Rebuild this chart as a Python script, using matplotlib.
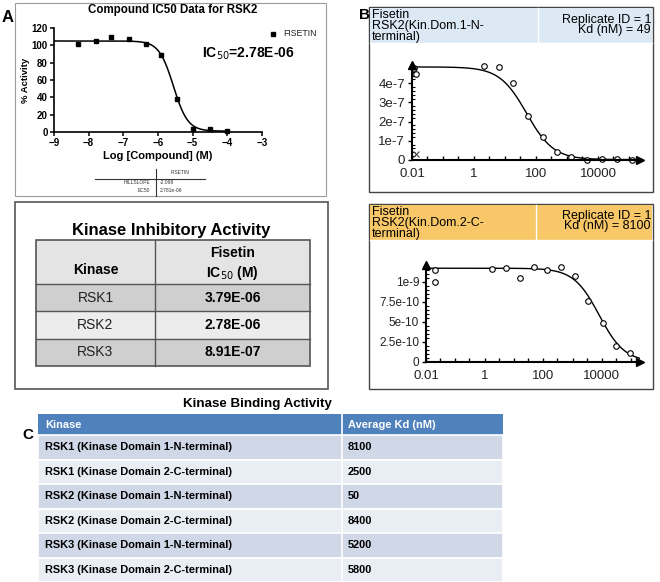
import numpy as np
import matplotlib
matplotlib.use("Agg")
import matplotlib.pyplot as plt
from matplotlib.patches import Rectangle
from matplotlib.ticker import FixedLocator, MultipleLocator, LogLocator, NullFormatter

W, H = 660, 582

# ---- panel A: RSK2 IC50 assay
a_logconc = [-8.3, -7.8, -7.35, -6.85, -6.35, -5.9, -5.45, -5.0, -4.5, -4.0]
a_activity = [102, 105, 110, 107, 102, 89, 38, 4, 3, 1]
a_top, a_bottom = 105, 1
a_hillslope = -2.098
a_ec50 = 2.781e-06

# ---- kinase inhibitory activity table
inh_kinase = ["RSK1", "RSK2", "RSK3"]
inh_ic50 = ["3.79E-06", "2.78E-06", "8.91E-07"]

# ---- panel B: binding curves (conc in nM)
b1_conc = [0.012, 0.013, 2.1, 6.3, 18, 55, 170, 480, 1350, 4400, 13000, 40000, 125000]
b1_signal = [4.78e-7, 4.5e-7, 4.88e-7, 4.85e-7, 4.0e-7, 2.3e-7, 1.2e-7, 0.43e-7,
             0.14e-7, 0.02e-7, 0.03e-7, 0.03e-7, 0.02e-7]
b1_outlier_conc, b1_outlier_signal = [0.013], [0.3e-7]
b1_top, b1_bottom, b1_kd = 4.85e-7, 0.02e-7, 49

b2_conc = [0.02, 0.02, 1.8, 5.4, 16, 49, 138, 400, 1200, 3470, 10700, 30000, 91000]
b2_signal = [1.15e-9, 1.0e-9, 1.16e-9, 1.17e-9, 1.05e-9, 1.18e-9, 1.15e-9, 1.18e-9,
             1.075e-9, 0.76e-9, 0.49e-9, 0.2e-9, 0.11e-9]
b2_top, b2_bottom, b2_kd = 1.17e-9, 0.0, 8100

# ---- kinase binding table
bind_kinase = ["RSK1 (Kinase Domain 1-N-terminal)", "RSK1 (Kinase Domain 2-C-terminal)",
               "RSK2 (Kinase Domain 1-N-terminal)", "RSK2 (Kinase Domain 2-C-terminal)",
               "RSK3 (Kinase Domain 1-N-terminal)", "RSK3 (Kinase Domain 2-C-terminal)"]
bind_kd = ["8100", "2500", "50", "8400", "5200", "5800"]

plt.rcParams['font.family'] = ['Liberation Sans', 'DejaVu Sans']
NARROW = ['Liberation Sans Narrow', 'Liberation Sans']

fig = plt.figure(figsize=(W / 100, H / 100), dpi=100)
bg = fig.add_axes([0, 0, 1, 1])
bg.set_xlim(0, W)
bg.set_ylim(H, 0)
bg.axis('off')


def px_axes(x0, y0, x1, y1):
    ax = fig.add_axes([x0 / W, 1 - y1 / H, (x1 - x0) / W, (y1 - y0) / H])
    ax.set_facecolor('none')
    return ax


def box(x0, y0, x1, y1, **kw):
    bg.add_patch(Rectangle((x0, y0), x1 - x0, y1 - y0, **kw))


# ================= Panel A =================
box(15, 3, 326, 196, fill=False, ec='#9a9a9a', lw=0.8)
bg.text(8, 17, "A", fontsize=12, fontweight='bold', ha='center', va='center')
bg.text(173, 10, "Compound IC50 Data for RSK2", fontsize=8.3, fontweight='bold',
        ha='center', va='center')

axA = px_axes(54, 28, 262, 132)
xs = np.linspace(-9, -4, 300)
fit = a_bottom + (a_top - a_bottom) / (1 + 10 ** ((np.log10(a_ec50) - xs) * a_hillslope))
axA.plot(xs, fit, color='k', lw=1.1)
axA.plot(a_logconc, a_activity, 's', color='k', ms=3.5, clip_on=False)
axA.set_xlim(-9, -3)
axA.set_ylim(0, 120)
axA.set_xticks(range(-9, -2))
axA.set_yticks(range(0, 121, 20))
for s in ['top', 'right']:
    axA.spines[s].set_visible(False)
for s in ['left', 'bottom']:
    axA.spines[s].set_linewidth(1.2)
axA.tick_params(length=3, width=1.1, pad=1.5, labelsize=7)
for lab in axA.get_xticklabels() + axA.get_yticklabels():
    lab.set_fontweight('bold')
axA.set_xlabel("Log [Compound] (M)", fontsize=8, fontweight='bold', labelpad=2)
axA.set_ylabel("% Activity", fontsize=6.8, fontweight='bold', labelpad=1)

bg.plot([273], [34], 's', color='k', ms=3.5)
bg.text(283, 34, "FISETIN", fontsize=6.3, va='center', color='#222')
bg.text(202, 54, "IC$_{50}$=2.78E-06", fontsize=10, fontweight='bold', va='center',
        family=NARROW, math_fontfamily='custom')

# tiny results table
bg.plot([95, 205], [179, 179], color='#333', lw=0.8)
bg.plot([156, 156], [169, 196], color='#333', lw=0.8)
bg.text(180, 173, "FISETIN", fontsize=3.6, ha='center', va='center', color='#333')
bg.text(150, 183, "HILLSLOPE", fontsize=3.6, ha='right', va='center', color='#333')
bg.text(160, 183, "%.3f" % a_hillslope, fontsize=3.6, ha='left', va='center', color='#333')
bg.text(150, 191, "EC50", fontsize=3.6, ha='right', va='center', color='#333')
bg.text(160, 191, "%.3e" % a_ec50, fontsize=3.6, ha='left', va='center', color='#333')

# ================= Kinase inhibitory activity =================
box(15, 202, 328, 389, fill=False, ec='#555', lw=1.2)
bg.text(171, 230, "Kinase Inhibitory Activity", fontsize=12, fontweight='bold',
        ha='center', va='center', family=NARROW)
tx0, tdiv, tx1 = 36, 155, 310
hy0, hy1 = 240, 284
row_h = 27.3
box(tx0, hy0, tx1, hy1, fc='#e4e4e4', ec='none')
row_colors = ['#cfcfcf', '#ececec']
for i, (k, v) in enumerate(zip(inh_kinase, inh_ic50)):
    y0 = hy1 + i * row_h
    box(tx0, y0, tx1, y0 + row_h, fc=row_colors[i % 2], ec='none')
    bg.plot([tx0, tx1], [y0, y0], color='#555', lw=1)
    bg.text((tx0 + tdiv) / 2, y0 + row_h / 2, k, fontsize=10, ha='center', va='center',
            color='#222')
    bg.text((tdiv + tx1) / 2, y0 + row_h / 2, v, fontsize=10, fontweight='bold',
            ha='center', va='center')
ty_end = hy1 + len(inh_kinase) * row_h
box(tx0, hy0, tx1, ty_end, fill=False, ec='#555', lw=1.2)
bg.plot([tdiv, tdiv], [hy0, ty_end], color='#555', lw=1)
bg.text((tx0 + tdiv) / 2, 270, "Kinase", fontsize=10, fontweight='bold', ha='center', va='center')
bg.text((tdiv + tx1) / 2, 253, "Fisetin", fontsize=10, fontweight='bold', ha='center', va='center')
bg.text((tdiv + tx1) / 2, 273, "IC$_{50}$ (M)", fontsize=10, fontweight='bold', ha='center',
        va='center')


# ================= Panel B =================
def binding_panel(y0, y1, band_color, div_x, left_txt, right_txt, right_y, right_ls):
    box(369, y0, 653, y1, fill=False, ec='#444', lw=1.0)
    box(370, y0 + 1, 652, y0 + 36, fc=band_color, ec='none')
    bg.plot([div_x, div_x], [y0 + 1, y0 + 36], color='white', lw=1)
    bg.plot([370, 652], [y0 + 36, y0 + 36], color='white', lw=1)
    bg.text(372, y0 + 2, left_txt, fontsize=9, va='top', ha='left', linespacing=0.9)
    bg.text(651, right_y, right_txt, fontsize=9, va='center', ha='right',
            multialignment='right', linespacing=right_ls)


def style_binding_axes(ax, yticks, ylabels, yminor, xmax, ysize):
    ax.set_xscale('log')
    ax.set_xlim(0.01, xmax)
    for s in ['top', 'right']:
        ax.spines[s].set_visible(False)
    for s in ['left', 'bottom']:
        ax.spines[s].set_linewidth(1.5)
    ax.xaxis.set_major_locator(FixedLocator([10.0 ** k for k in range(-2, 6)]))
    ax.xaxis.set_major_formatter(plt.FuncFormatter(
        lambda v, p: {0.01: "0.01", 1: "1", 100: "100", 10000: "10000"}.get(round(v, 2), "")))
    ax.xaxis.set_minor_locator(LogLocator(base=10, subs=(3.0,), numticks=20))
    ax.xaxis.set_minor_formatter(NullFormatter())
    ax.set_yticks(yticks)
    ax.set_yticklabels(ylabels)
    ax.yaxis.set_minor_locator(MultipleLocator(yminor))
    ax.tick_params(axis='x', which='both', direction='in', length=3, width=1, pad=6,
                   labelsize=9.5, labelcolor='#222')
    ax.tick_params(axis='y', which='major', direction='out', length=3, width=1, pad=2,
                   labelsize=ysize, labelcolor='#222')
    ax.tick_params(axis='y', which='minor', direction='in', length=2.5, width=0.8)
    ax.plot([1], [0], '>', color='k', ms=6, transform=ax.transAxes, clip_on=False)
    ax.plot([0], [1], '^', color='k', ms=6, transform=ax.transAxes, clip_on=False)


bg.text(364, 15, "B", fontsize=11, fontweight='bold', ha='center', va='center')
binding_panel(7, 192, '#dce9f5', 538, "Fisetin\nRSK2(Kin.Dom.1-N-\nterminal)",
              "Replicate ID = 1\nKd (nM) = %d" % b1_kd, 25, 0.85)
axB1 = px_axes(412, 65, 640, 160)
cx = np.logspace(-2, np.log10(2.2e5), 300)
axB1.plot(cx, b1_bottom + (b1_top - b1_bottom) / (1 + cx / b1_kd), color='k', lw=1)
axB1.plot(b1_conc, b1_signal, 'o', mfc='white', mec='k', ms=4, mew=0.8, clip_on=False)
axB1.plot(b1_outlier_conc, b1_outlier_signal, 'x', color='#444', ms=4, mew=0.8, clip_on=False)
axB1.set_ylim(0, 4.95e-7)
style_binding_axes(axB1, [0, 1e-7, 2e-7, 3e-7, 4e-7], ["0", "1e-7", "2e-7", "3e-7", "4e-7"],
                   2e-8, 2.2e5, 9.5)

binding_panel(204, 389, '#f8c767', 536, "Fisetin\nRSK2(Kin.Dom.2-C-\nterminal)",
              "Replicate ID = 1\nKd (nM) = %d" % b2_kd, 221, 0.72)
axB2 = px_axes(426, 265, 640, 362)
cx2 = np.logspace(-2, np.log10(2e5), 300)
axB2.plot(cx2, b2_bottom + (b2_top - b2_bottom) / (1 + cx2 / b2_kd), color='k', lw=1)
axB2.plot(b2_conc, b2_signal, 'o', mfc='white', mec='k', ms=4, mew=0.8, clip_on=False)
axB2.set_ylim(0, 1.21e-9)
style_binding_axes(axB2, [0, 2.5e-10, 5e-10, 7.5e-10, 1e-9],
                   ["0", "2.5e-10", "5e-10", "7.5e-10", "1e-9"], 5e-11, 2e5, 8.5)

# ================= Panel C =================
bg.text(257, 404, "Kinase Binding Activity", fontsize=9.6, fontweight='bold',
        ha='center', va='center', family=NARROW)
bg.text(28, 435, "C", fontsize=11, fontweight='bold', ha='center', va='center')
cx0, cdiv, cx1 = 38, 342, 503
ch0, ch1 = 414, 435
crow = 24.5
box(cx0, ch0, cx1, ch1, fc='#4f81bd', ec='none')
bg.text(45, (ch0 + ch1) / 2, "Kinase", fontsize=7.9, fontweight='bold', color='white',
        va='center', family=NARROW)
bg.text(348, (ch0 + ch1) / 2, "Average Kd (nM)", fontsize=7.9, fontweight='bold', color='white',
        va='center', family=NARROW)
c_colors = ['#d0d8e8', '#e9edf4']
for i, (k, v) in enumerate(zip(bind_kinase, bind_kd)):
    y0 = ch1 + i * crow
    box(cx0, y0, cx1, y0 + crow, fc=c_colors[i % 2], ec='white', lw=1.2)
    bg.text(45, y0 + crow / 2, k, fontsize=7.9, fontweight='bold', va='center', family=NARROW)
    bg.text(348, y0 + crow / 2, v, fontsize=7.9, fontweight='bold', va='center', family=NARROW)
bg.plot([cdiv, cdiv], [ch0, ch1 + len(bind_kinase) * crow], color='white', lw=1.2)

fig.savefig("out.png", dpi=100)
